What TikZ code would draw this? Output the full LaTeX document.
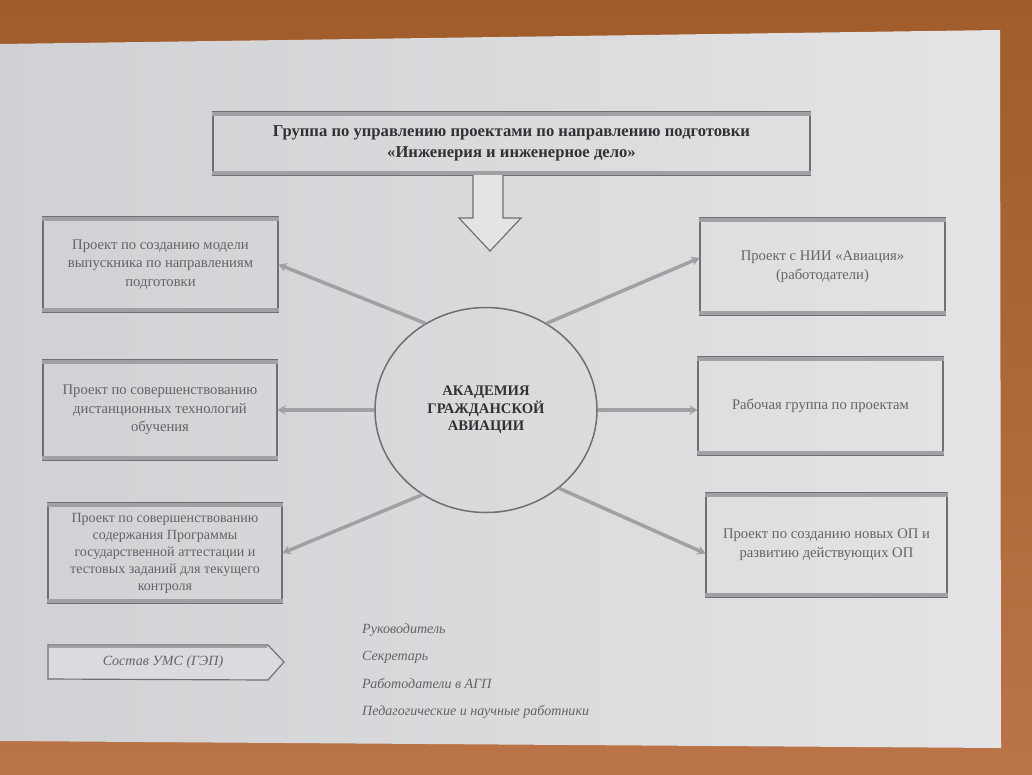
\documentclass[tikz,border=0pt]{standalone}
\usepackage{fontspec}
\setmainfont{Liberation Serif}
\usetikzlibrary{arrows.meta,shapes.geometric}
\definecolor{woodT}{RGB}{160,92,42}
\definecolor{woodB}{RGB}{186,116,72}
\definecolor{paperL}{RGB}{208,209,212}
\definecolor{paperR}{RGB}{228,228,230}
\definecolor{boxfill}{RGB}{218,219,222}
\definecolor{ink}{RGB}{100,100,104}
\definecolor{inkd}{RGB}{50,50,54}
\definecolor{edge}{RGB}{112,112,116}
\definecolor{band}{RGB}{160,161,165}
\def\u{0.03cm}
\begin{document}
\begin{tikzpicture}[x=0.03cm,y=-0.03cm,
  pbox/.style={draw=edge, line width=0.9pt, rectangle, align=center, text=ink,
    font=\fontsize{12.5}{16}\selectfont, inner sep=2pt},
  link/.style={draw=band, line width=3pt, -{Stealth[length=7pt,width=8pt,fill=edge]}},
  bandline/.style={draw=band, line width=3.5pt},
  legend/.style={anchor=west, text=ink, font=\fontsize{12}{14}\selectfont\itshape, inner sep=0pt}]
% background: table and sheet
\useasboundingbox (0,0) rectangle (1032,774);
\shade[top color=woodT, bottom color=woodB] (0,0) rectangle (1032,774);
\shade[left color=paperL, right color=paperR] (0,44) -- (1000,30) -- (1001,748) -- (0,741) -- cycle;
% top box
\node[pbox, minimum width=597*\u, minimum height=63*\u, text=inkd,
  font=\bfseries\fontsize{14.2}{17.5}\selectfont] (T) at (511.5,143.5)
  {Группа по управлению проектами по направлению подготовки\\«Инженерия и инженерное дело»};
% block arrow down
\draw[draw=edge, line width=1pt, fill=paperR] (473,175) -- (473,218) -- (459,218) -- (490,251) -- (521,218) -- (503,218) -- (503,175);
% centre
\node[ellipse, draw=edge, line width=1.3pt, minimum width=222*\u, minimum height=205*\u,
  align=center, text=inkd, font=\bfseries\fontsize{12.5}{15}\selectfont] (E) at (486,410)
  {АКАДЕМИЯ\\ГРАЖДАНСКОЙ\\АВИАЦИИ};
% left boxes
\node[pbox, minimum width=235*\u, minimum height=95*\u] (L1) at (160.5,264.5)
  {Проект по созданию модели\\выпускника по направлениям\\подготовки};
\node[pbox, minimum width=234*\u, minimum height=100*\u] (L2) at (160,410)
  {Проект по совершенствованию\\дистанционных технологий\\обучения};
\node[pbox, minimum width=234*\u, minimum height=100*\u, font=\fontsize{12}{14.5}\selectfont] (L3) at (165,553)
  {Проект по совершенствованию\\содержания Программы\\государственной аттестации и\\тестовых заданий для текущего\\контроля};
% right boxes
\node[pbox, minimum width=245*\u, minimum height=97*\u] (R1) at (822.5,266.5)
  {Проект с НИИ «Авиация»\\(работодатели)};
\node[pbox, minimum width=245*\u, minimum height=98*\u] (R2) at (820.5,406)
  {Рабочая группа по проектам};
\node[pbox, minimum width=241*\u, minimum height=104*\u] (R3) at (826.5,545)
  {Проект по созданию новых ОП и\\развитию действующих ОП};
% grey bands on top and bottom edges
\foreach \n in {T,L1,L2,L3,R1,R2,R3} {
  \draw[bandline] ([yshift=-1.8pt]\n.north west) -- ([yshift=-1.8pt]\n.north east);
  \draw[bandline] ([yshift=1.8pt]\n.south west) -- ([yshift=1.8pt]\n.south east);
}
% connectors
\draw[link] (E.125) -- (L1.east);
\draw[link] (E.west) -- (E.west -| L2.east);
\draw[link] (E.233) -- (L3.east);
\draw[link] (E.55) -- (R1.176);
\draw[link] (E.east) -- (E.east -| R2.west);
\draw[link] (E.313) -- (R3.184);
% legend
\draw[draw=edge, line width=1pt, fill=boxfill] (48,645) -- (268,645) -- (284,662) -- (268,680) -- (48,679) -- cycle;
\draw[band, line width=2.5pt] (49,647) -- (267,647);
\node[text=ink, font=\fontsize{12}{14}\selectfont\itshape] (S) at (163,662) {Состав УМС (ГЭП)};
\node[legend] (G1) at (362,630) {Руководитель};
\node[legend] (G2) at (362,657) {Секретарь};
\node[legend] (G3) at (362,684) {Работодатели в АГП};
\node[legend] (G4) at (362,712) {Педагогические и научные работники};
\end{tikzpicture}
\end{document}
